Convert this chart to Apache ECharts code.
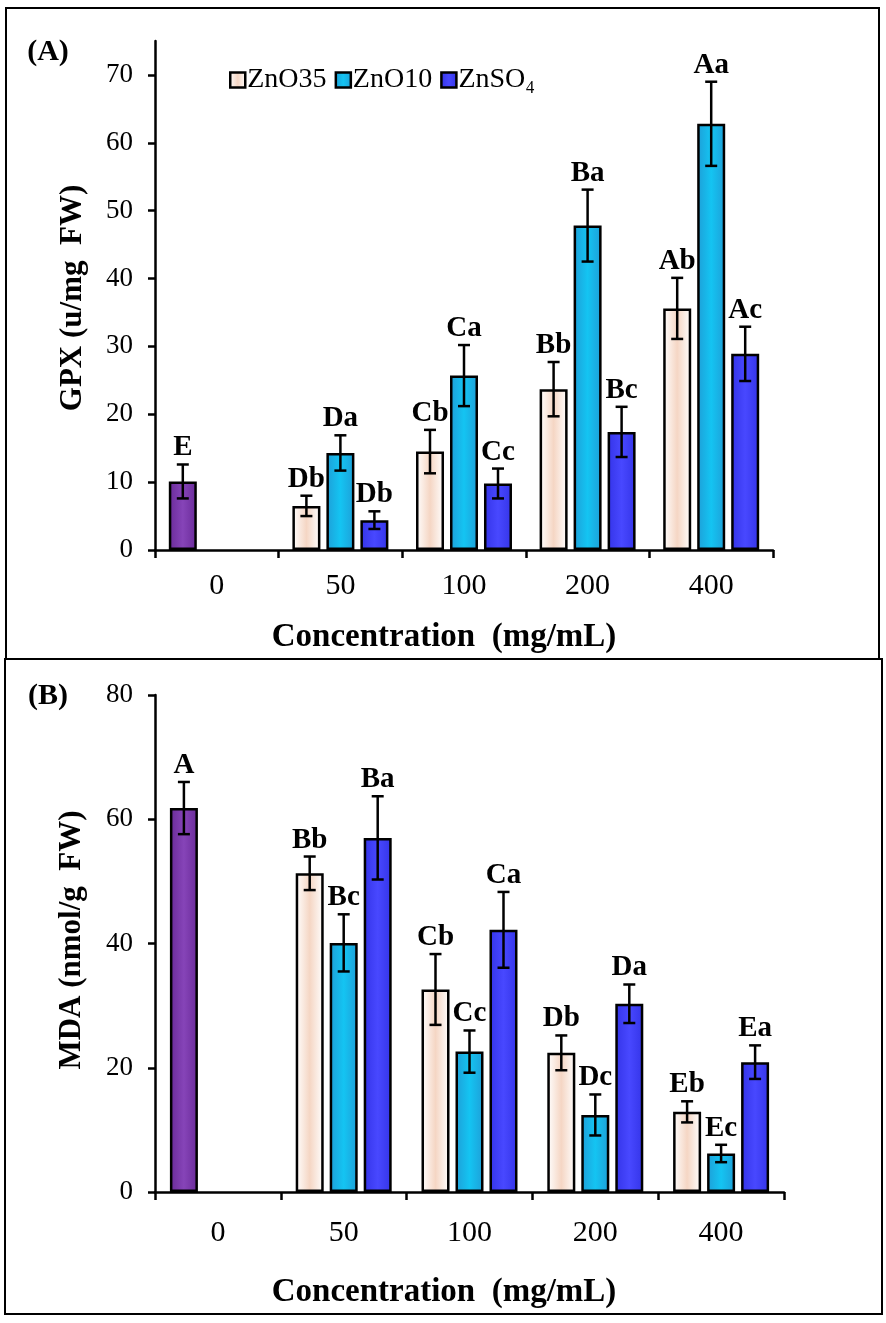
<!DOCTYPE html>
<html>
<head>
<meta charset="utf-8">
<script src="https://cdn.jsdelivr.net/npm/echarts@6/dist/echarts.min.js"></script>
<style>
  html, body { margin: 0; padding: 0; background: #fff; }
  #main { width: 886px; height: 1323px; }
</style>
</head>
<body>
<div id="main"></div>
<script>
// categories (concentration, mg/mL)
var categories = ['0', '50', '100', '200', '400'];
var seriesNames = ['ZnO35', 'ZnO10', 'ZnSO₄'];

// (A) GPX, u/mg FW  -- control sits in group "0"
var gpxControl = 10.1, gpxControlErr = 2.5, gpxControlLetter = 'E';
var gpxZnO35 = [null, 6.5, 14.5, 23.7, 35.6];
var gpxZnO35Err = [null, 1.5, 3.2, 4.0, 4.5];
var gpxZnO35Letters = [null, 'Db', 'Cb', 'Bb', 'Ab'];
var gpxZnO10 = [null, 14.3, 25.7, 47.8, 62.8];
var gpxZnO10Err = [null, 2.6, 4.5, 5.3, 6.2];
var gpxZnO10Letters = [null, 'Da', 'Ca', 'Ba', 'Aa'];
var gpxZnSO4 = [null, 4.4, 9.8, 17.4, 28.9];
var gpxZnSO4Err = [null, 1.3, 2.2, 3.7, 4.0];
var gpxZnSO4Letters = [null, 'Db', 'Cc', 'Bc', 'Ac'];
var gpxTicks = [0, 10, 20, 30, 40, 50, 60, 70];

// (B) MDA, nmol/g FW
var mdaControl = 61.8, mdaControlErr = 4.2, mdaControlLetter = 'A';
var mdaZnO35 = [null, 51.3, 32.6, 22.4, 12.9];
var mdaZnO35Err = [null, 2.7, 5.7, 2.8, 1.7];
var mdaZnO35Letters = [null, 'Bb', 'Cb', 'Db', 'Eb'];
var mdaZnO10 = [null, 40.1, 22.6, 12.4, 6.2];
var mdaZnO10Err = [null, 4.6, 3.4, 3.3, 1.4];
var mdaZnO10Letters = [null, 'Bc', 'Cc', 'Dc', 'Ec'];
var mdaZnSO4 = [null, 57.0, 42.2, 30.3, 20.9];
var mdaZnSO4Err = [null, 6.7, 6.1, 3.1, 2.7];
var mdaZnSO4Letters = [null, 'Ba', 'Ca', 'Da', 'Ea'];
var mdaTicks = [0, 20, 40, 60, 80];

var SERIF = '"Liberation Serif", "Times New Roman", serif';

function hGrad(edge, mid) {
  return new echarts.graphic.LinearGradient(0, 0, 1, 0, [
    { offset: 0, color: edge }, { offset: 0.5, color: mid }, { offset: 1, color: edge }
  ]);
}
var fills = [
  hGrad('#ffffff', '#f5d6c4'),
  hGrad('#1e9fd8', '#14c4f2'),
  hGrad('#3434e8', '#4848ff')
];
var controlFill = hGrad('#6a2b99', '#8644b8');
var slotOffset = [-34, 0, 34];

function withControl(arr, ctrl) {
  return arr.map(function (v, i) {
    if (i === 0 && ctrl != null) return { value: ctrl, itemStyle: { color: controlFill } };
    return v == null ? '-' : v;
  });
}

function errSeries(gi, vals, errs, letters, offset) {
  var data = vals.map(function (v, i) { return [i, v, errs[i], letters[i]]; })
    .filter(function (d) { return d[1] != null; });
  return {
    type: 'custom', xAxisIndex: gi, yAxisIndex: gi, z: 10, silent: true,
    data: data,
    renderItem: function (params, api) {
      var idx = api.value(0), v = api.value(1), e = api.value(2);
      var top = api.coord([idx, v + e]);
      var bot = api.coord([idx, v - e]);
      var x = top[0] + offset;
      var st = { stroke: '#000', lineWidth: 2.5 };
      return {
        type: 'group',
        children: [
          { type: 'line', shape: { x1: x, y1: top[1], x2: x, y2: bot[1] }, style: st },
          { type: 'line', shape: { x1: x - 6, y1: top[1], x2: x + 6, y2: top[1] }, style: st },
          { type: 'line', shape: { x1: x - 6, y1: bot[1], x2: x + 6, y2: bot[1] }, style: st },
          { type: 'text', x: x, y: top[1] - 2,
            style: { text: data[params.dataIndex][3], fill: '#000', font: 'bold 29px ' + SERIF,
                     align: 'center', verticalAlign: 'bottom' } }
        ]
      };
    }
  };
}

function panelSeries(gi, s35, s10, sSO4, e35, e10, eSO4, l35, l10, lSO4, ctrl, ctrlErr, ctrlLetter) {
  var vals = [s35, s10, sSO4], errs = [e35, e10, eSO4], lets = [l35, l10, lSO4];
  var out = [];
  for (var k = 0; k < 3; k++) {
    out.push({
      name: seriesNames[k], type: 'bar', xAxisIndex: gi, yAxisIndex: gi,
      barWidth: 28, barGap: '21.4%',
      data: withControl(vals[k], k === 0 ? ctrl : null),
      itemStyle: { color: fills[k], borderColor: '#000', borderWidth: 2.5 }
    });
  }
  for (var j = 0; j < 3; j++) {
    var v = vals[j].slice(), e = errs[j].slice(), l = lets[j].slice();
    if (j === 0) { v[0] = ctrl; e[0] = ctrlErr; l[0] = ctrlLetter; }
    out.push(errSeries(gi, v, e, l, slotOffset[j]));
  }
  return out;
}

function xAxis(gi, margin) {
  return {
    type: 'category', gridIndex: gi, data: categories,
    axisLine: { lineStyle: { color: '#000', width: 2.5 } },
    axisTick: { show: true, length: 8, lineStyle: { color: '#000', width: 2.5 } },
    axisLabel: { color: '#000', fontFamily: SERIF, fontSize: 30, margin: margin }
  };
}
function yAxis(gi, max, ticks) {
  return {
    type: 'value', gridIndex: gi, min: 0, max: max,
    splitLine: { show: false },
    axisLine: { show: true, lineStyle: { color: '#000', width: 2.5 } },
    axisTick: { show: true, length: 7, customValues: ticks, lineStyle: { color: '#000', width: 2.5 } },
    axisLabel: { color: '#000', fontFamily: SERIF, fontSize: 27, margin: 22, customValues: ticks }
  };
}

var chart = echarts.init(document.getElementById('main'));
chart.setOption({
  backgroundColor: '#fff',
  animation: false,
  grid: [
    { left: 155, right: 113, top: 41, bottom: 773 },
    { left: 155, right: 102, top: 695, bottom: 131 }
  ],
  legend: {
    data: seriesNames, left: 224, top: 61, icon: 'rect',
    itemWidth: 15, itemHeight: 15, itemGap: 8,
    itemStyle: { borderColor: '#000', borderWidth: 2.5 },
    textStyle: { color: '#000', fontFamily: SERIF, fontSize: 28, padding: [0, 0, 0, -3] }
  },
  xAxis: [xAxis(0, 21), xAxis(1, 26)],
  yAxis: [yAxis(0, 75, gpxTicks), yAxis(1, 80, mdaTicks)],
  series: [].concat(
    panelSeries(0, gpxZnO35, gpxZnO10, gpxZnSO4, gpxZnO35Err, gpxZnO10Err, gpxZnSO4Err,
      gpxZnO35Letters, gpxZnO10Letters, gpxZnSO4Letters, gpxControl, gpxControlErr, gpxControlLetter),
    panelSeries(1, mdaZnO35, mdaZnO10, mdaZnSO4, mdaZnO35Err, mdaZnO10Err, mdaZnSO4Err,
      mdaZnO35Letters, mdaZnO10Letters, mdaZnSO4Letters, mdaControl, mdaControlErr, mdaControlLetter)
  ),
  graphic: [
    { type: 'rect', shape: { x: 6, y: 8, width: 873, height: 651 }, style: { fill: null, stroke: '#000', lineWidth: 2 }, z: -1 },
    { type: 'rect', shape: { x: 5, y: 659, width: 877, height: 655 }, style: { fill: null, stroke: '#000', lineWidth: 2 }, z: -1 },
    { type: 'text', x: 48, y: 52, style: { text: '(A)', font: 'bold 30px ' + SERIF, fill: '#000', align: 'center', verticalAlign: 'middle' } },
    { type: 'text', x: 48, y: 696, style: { text: '(B)', font: 'bold 30px ' + SERIF, fill: '#000', align: 'center', verticalAlign: 'middle' } },
    { type: 'text', x: 73, y: 298, rotation: Math.PI / 2, style: { text: 'GPX (u/mg  FW)', font: 'bold 31px ' + SERIF, fill: '#000', align: 'center', verticalAlign: 'middle' } },
    { type: 'text', x: 72, y: 940, rotation: Math.PI / 2, style: { text: 'MDA (nmol/g  FW)', font: 'bold 31px ' + SERIF, fill: '#000', align: 'center', verticalAlign: 'middle' } },
    { type: 'text', x: 444, y: 637, style: { text: 'Concentration  (mg/mL)', font: 'bold 33px ' + SERIF, fill: '#000', align: 'center', verticalAlign: 'middle' } },
    { type: 'text', x: 444, y: 1292, style: { text: 'Concentration  (mg/mL)', font: 'bold 33px ' + SERIF, fill: '#000', align: 'center', verticalAlign: 'middle' } }
  ]
});
</script>
</body>
</html>
